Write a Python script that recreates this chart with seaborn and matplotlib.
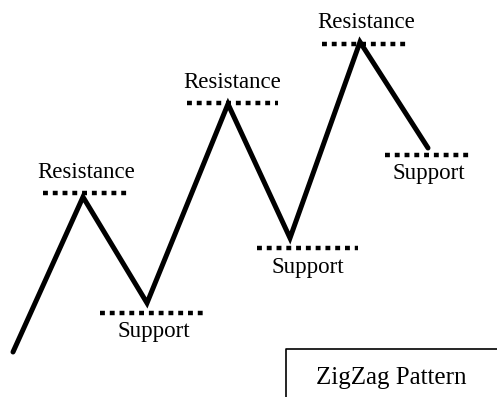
import matplotlib
matplotlib.use("Agg")
import matplotlib.pyplot as plt
import seaborn as sns
import pandas as pd

# ---- zigzag price path (pixel-like units, y grows downward) ----
zig_x = [13, 83, 147, 228, 290, 360, 428]
zig_y = [352, 197, 303, 104, 238, 42, 148]

# ---- support / resistance levels ----
level_kind = ["Resistance", "Support", "Resistance", "Support", "Resistance", "Support"]
level_y = [193, 313, 103, 248, 44, 155]
level_x0 = [43, 100, 187, 257, 322, 385]
level_x1 = [130, 207, 278, 358, 410, 472]

title_text = "ZigZag Pattern"

sns.set_theme(style="white")
plt.rcParams["font.family"] = ["Liberation Serif", "DejaVu Serif"]

fig = plt.figure(figsize=(4.97, 3.97), dpi=100)
ax = fig.add_axes([0, 0, 1, 1])

# main zigzag line
zig = pd.DataFrame({"x": zig_x, "y": zig_y})
sns.lineplot(data=zig, x="x", y="y", sort=False, color="black",
             linewidth=3.6, ax=ax, solid_joinstyle="miter")

# dotted levels + labels
label_offset = {"Resistance": -21, "Support": 19}
for kind, y, x0, x1 in zip(level_kind, level_y, level_x0, level_x1):
    lvl = pd.DataFrame({"x": [x0, x1], "y": [y, y]})
    sns.lineplot(data=lvl, x="x", y="y", color="black", linewidth=3.2,
                 linestyle=(0, (1.1, 1.1)), dash_capstyle="butt", ax=ax)
    ax.text((x0 + x1) / 2, y + label_offset[kind], kind,
            ha="center", va="center", fontsize=16.5, color="black")

# caption box in the lower right corner
ax.plot([286, 286, 497], [397, 349, 349], color="black", linewidth=1.2)
ax.text(391, 378, title_text, ha="center", va="center", fontsize=18, color="black")

ax.set_xlim(0, 497)
ax.set_ylim(397, 0)
ax.axis("off")

fig.savefig("out.png", dpi=100, facecolor="white")
